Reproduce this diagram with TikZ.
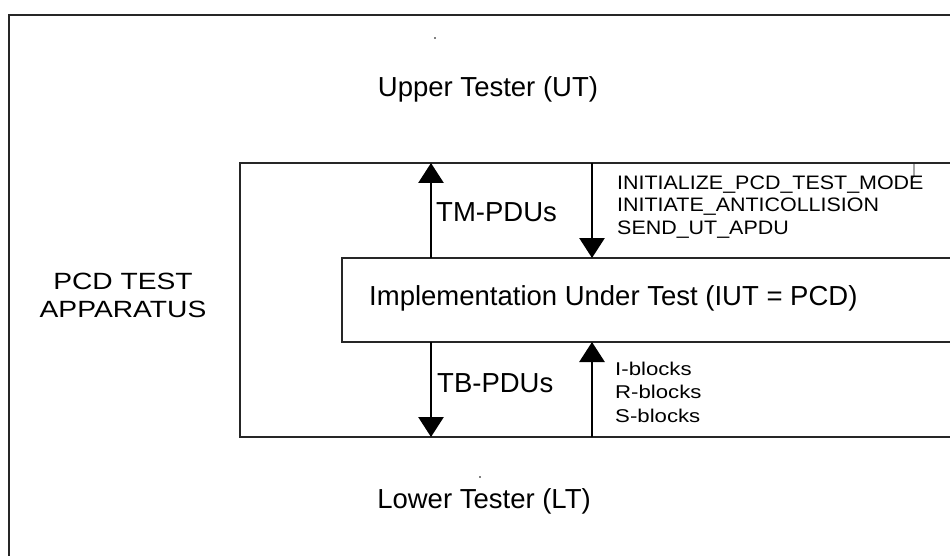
\documentclass[tikz,border=0pt]{standalone}
\usepackage{fontspec}
\setmainfont{Liberation Sans}
\newfontfamily\cmdfont{Liberation Sans}[FakeStretch=1.1]
\newfontfamily\blkfont{Liberation Sans}[FakeStretch=1.2]
\newfontfamily\pcdfont{Liberation Sans}[FakeStretch=1.2]
\usetikzlibrary{arrows.meta}
\begin{document}
\begin{tikzpicture}[x=1pt,y=-1pt,
  frame/.style={draw=black!85, line width=1.6pt, rectangle, inner sep=0pt, outer sep=0pt, anchor=north west},
  flow/.style={draw=black, line width=2.8pt, -{Triangle[width=25pt,length=20pt]}},
  big/.style={font=\fontsize{27.5}{33}\selectfont, inner sep=0pt, text=black},
  cmd/.style={font=\cmdfont\fontsize{19.5}{22.5}\selectfont, inner sep=0pt, align=left, anchor=west},
  blk/.style={font=\blkfont\fontsize{18.5}{23.5}\selectfont, inner sep=0pt, align=left, anchor=west},
  pcd/.style={font=\pcdfont\fontsize{23.5}{28}\selectfont, inner sep=0pt, align=center}]
\useasboundingbox (0,0) rectangle (950,556);
\fill[white] (0,0) rectangle (950,556);
\clip (0,0) rectangle (950,556);
% boxes
\node[frame, minimum width=961pt, minimum height=555pt] (outer) at (9,15) {};
\node[frame, minimum width=730pt, minimum height=274pt] (inner) at (240,163) {};
\node[frame, minimum width=628pt, minimum height=84pt] (iut) at (342,258) {};
% arrow columns
\coordinate (cl) at (431,0);
\coordinate (cr) at (592,0);
\draw[flow] (iut.north -| cl) -- (inner.north -| cl);
\draw[flow] (inner.north -| cr) -- (iut.north -| cr);
\draw[flow] (iut.south -| cl) -- (inner.south -| cl);
\draw[flow] (inner.south -| cr) -- (iut.south -| cr);
% texts
\node[big] (ut) at (488,89) {Upper Tester (UT)};
\node[big] (lt) at (484,501) {Lower Tester (LT)};
\node[big, anchor=west] (iutt) at (369,298) {Implementation Under Test (IUT = PCD)};
\node[big, anchor=west] (tm) at (436,212) {TM-PDUs};
\node[big, anchor=west] (tb) at (437,383) {TB-PDUs};
\node[pcd] (app) at (123,295) {PCD TEST\\APPARATUS};
\node[cmd] (cmds) at (617,207) {INITIALIZE\_PCD\_TEST\_MODE\\INITIATE\_ANTICOLLISION\\SEND\_UT\_APDU};
\node[blk] (blocks) at (615,392) {I-blocks\\R-blocks\\S-blocks};
% small marks
\fill (435,38) circle (0.8pt);
\fill (480,477) circle (0.8pt);
\draw[line width=0.8pt] (914,164) -- (914,176) -- (912,179);
\end{tikzpicture}
\end{document}
